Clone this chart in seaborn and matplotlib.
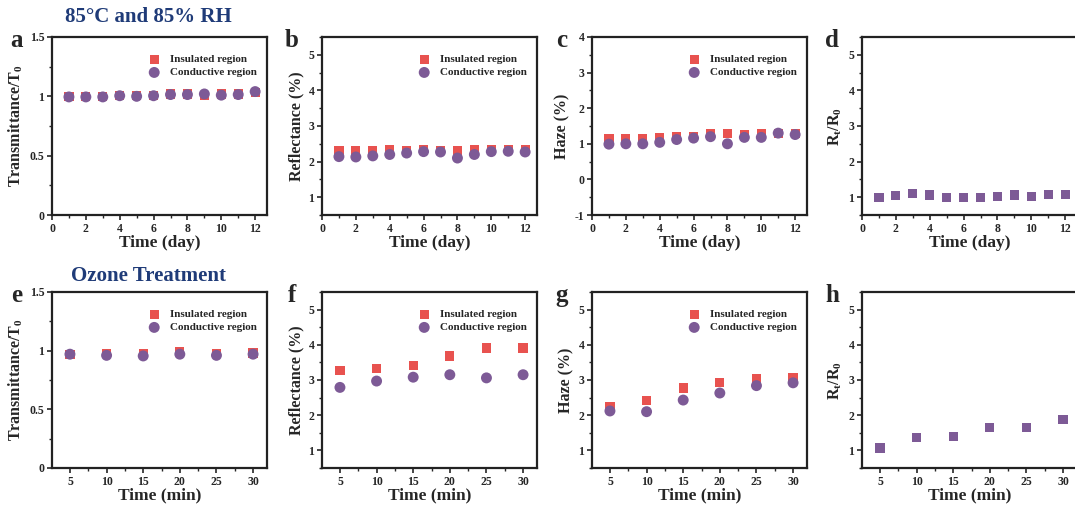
import numpy as np
import pandas as pd
import matplotlib
matplotlib.use("Agg")
import matplotlib.pyplot as plt
from matplotlib.ticker import AutoMinorLocator, MultipleLocator
import seaborn as sns

sns.set_style("white")
plt.rcParams['font.family'] = ['Liberation Serif', 'DejaVu Serif']
plt.rcParams['font.weight'] = 'bold'
plt.rcParams['mathtext.fontset'] = 'custom'
plt.rcParams['mathtext.rm'] = 'Liberation Serif:bold'
plt.rcParams['mathtext.it'] = 'Liberation Serif:bold'
plt.rcParams['mathtext.bf'] = 'Liberation Serif:bold'

# ---- data ----
days = [1, 2, 3, 4, 5, 6, 7, 8, 9, 10, 11, 12]
minutes = [5, 10, 15, 20, 25, 30]

a_insulated = [1.0, 1.0, 1.0, 1.01, 1.01, 1.01, 1.02, 1.02, 1.01, 1.02, 1.02, 1.03]
a_conductive = [0.995, 0.995, 0.995, 1.005, 1.0, 1.005, 1.015, 1.015, 1.02, 1.01, 1.015, 1.04]
b_insulated = [2.3, 2.3, 2.31, 2.33, 2.32, 2.34, 2.32, 2.3, 2.34, 2.35, 2.35, 2.35]
b_conductive = [2.14, 2.13, 2.16, 2.2, 2.24, 2.28, 2.27, 2.1, 2.2, 2.28, 2.29, 2.27]
c_insulated = [1.15, 1.15, 1.15, 1.17, 1.2, 1.2, 1.28, 1.3, 1.27, 1.28, 1.3, 1.3]
c_conductive = [0.99, 1.0, 1.0, 1.04, 1.12, 1.16, 1.2, 1.0, 1.18, 1.18, 1.3, 1.26]
d_ratio = [1.0, 1.05, 1.1, 1.06, 1.0, 1.0, 0.99, 1.02, 1.06, 1.03, 1.07, 1.07]

e_insulated = [0.97, 0.975, 0.975, 0.99, 0.975, 0.98]
e_conductive = [0.97, 0.96, 0.955, 0.97, 0.96, 0.97]
f_insulated = [3.28, 3.32, 3.41, 3.68, 3.91, 3.91]
f_conductive = [2.79, 2.97, 3.08, 3.15, 3.06, 3.15]
g_insulated = [2.25, 2.42, 2.77, 2.93, 3.05, 3.07]
g_conductive = [2.12, 2.1, 2.43, 2.63, 2.84, 2.92]
h_ratio = [1.07, 1.36, 1.4, 1.64, 1.65, 1.88]

row_titles = ["85°C and 85% RH", "Ozone Treatment"]
panel_letters = ["a", "b", "c", "d", "e", "f", "g", "h"]
ylabels = ["Transmittance/T$_0$", "Reflectance (%)", "Haze (%)", "R$_t$/R$_0$"]
xlabels = ["Time (day)", "Time (min)"]
series_names = ["Insulated region", "Conductive region"]

RED = "#E8524F"
PURPLE = "#7D5A96"
NAVY = "#1F3B78"

fig = plt.figure(figsize=(10.75, 5.07), dpi=100)
W, H = 1075, 507

lefts = [52, 322, 592, 862]
rows = [(37, 215), (292, 468)]
width_px = 215

panels = [
    (days, a_insulated, a_conductive, (0, 1.5), 0.5, (0, 12.7)),
    (days, b_insulated, b_conductive, (0.5, 5.5), 1, (0, 12.7)),
    (days, c_insulated, c_conductive, (-1, 4), 1, (0, 12.7)),
    (days, None, d_ratio, (0.5, 5.5), 1, (0, 12.7)),
    (minutes, e_insulated, e_conductive, (0, 1.5), 0.5, (2.55, 31.9)),
    (minutes, f_insulated, f_conductive, (0.5, 5.5), 1, (2.55, 31.9)),
    (minutes, g_insulated, g_conductive, (0.5, 5.5), 1, (2.55, 31.9)),
    (minutes, None, h_ratio, (0.5, 5.5), 1, (2.55, 31.9)),
]

SQ, CI = 44, 62

for i, (x, ins, con, ylim, ystep, xlim) in enumerate(panels):
    r, c = divmod(i, 4)
    top, bot = rows[r]
    ax = fig.add_axes([lefts[c] / W, 1 - bot / H, width_px / W, (bot - top) / H])
    if ins is not None:
        df = pd.DataFrame({"x": x, "y": ins})
        sns.scatterplot(data=df, x="x", y="y", ax=ax, marker="s", s=SQ,
                        color=RED, edgecolor="none", label=series_names[0], zorder=3)
        df2 = pd.DataFrame({"x": x, "y": con})
        sns.scatterplot(data=df2, x="x", y="y", ax=ax, marker="o", s=CI,
                        color=PURPLE, edgecolor="none", label=series_names[1], zorder=4)
        leg = ax.legend(loc="upper right", bbox_to_anchor=(1.019, 0.983),
                        frameon=False, fontsize=8,
                        handlelength=1.2, handletextpad=0.8, borderaxespad=0.6,
                        labelspacing=0.3, borderpad=0.7, markerscale=1.0)
        for t in leg.get_texts():
            t.set_fontweight("bold")
    else:
        df = pd.DataFrame({"x": x, "y": con})
        sns.scatterplot(data=df, x="x", y="y", ax=ax, marker="s", s=SQ,
                        color=PURPLE, edgecolor="none", zorder=3, legend=False)
    ax.set_ylim(*ylim)
    ax.set_xlim(*xlim)
    ax.yaxis.set_major_locator(MultipleLocator(ystep))
    if r == 0:
        ax.xaxis.set_major_locator(MultipleLocator(2))
        ax.xaxis.set_minor_locator(MultipleLocator(1))
    else:
        ax.xaxis.set_major_locator(MultipleLocator(5))
        ax.xaxis.set_minor_locator(MultipleLocator(2.5))
    ax.yaxis.set_minor_locator(AutoMinorLocator(2))
    fmt = (lambda v, p: ("%g" % v))
    ax.xaxis.set_major_formatter(plt.FuncFormatter(fmt))
    ax.yaxis.set_major_formatter(plt.FuncFormatter(fmt))
    ax.tick_params(axis="both", which="major", direction="out", length=3.5, width=1.2,
                   labelsize=8.5, pad=2, bottom=True, left=True, top=False, right=False)
    ax.tick_params(axis="both", which="minor", direction="out", length=2, width=1,
                   bottom=True, left=True, top=False, right=False)
    for lbl in ax.get_xticklabels() + ax.get_yticklabels():
        lbl.set_fontweight("bold")
    for sp in ax.spines.values():
        sp.set_visible(True)
        sp.set_linewidth(1.6)
        sp.set_color("#222222")
    ax.set_xlabel(xlabels[r], fontsize=12.5, fontweight="bold", labelpad=0)
    ax.set_ylabel(ylabels[c], fontsize=11.5, fontweight="bold", labelpad=3)
    lx = -0.165 if c == 0 else -0.14
    ax.text(lx, 0.944, panel_letters[i], transform=ax.transAxes, fontsize=18,
            fontweight="bold", ha="center", va="baseline")
    if c == 0:
        ty = 1.115 if r == 0 else 1.09
        ax.text(0.45, ty, row_titles[r], transform=ax.transAxes, fontsize=15,
                fontweight="bold", color=NAVY, ha="center", va="center")

fig.savefig("out.png", dpi=100)
